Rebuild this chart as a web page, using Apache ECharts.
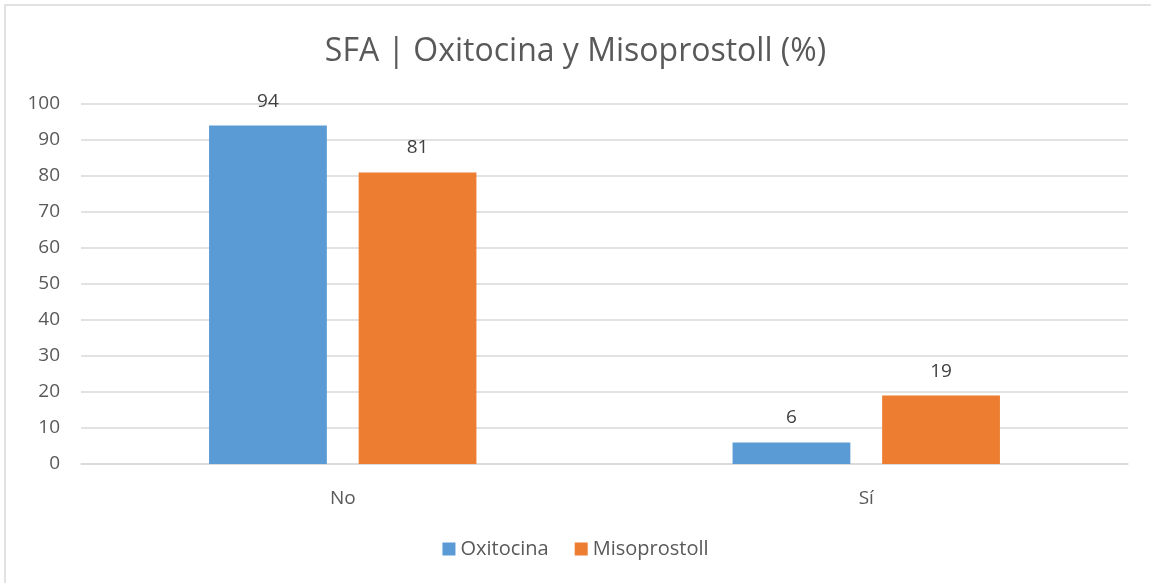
<!DOCTYPE html>
<html>
<head>
<meta charset="utf-8">
<script src="https://cdn.jsdelivr.net/npm/echarts@6/dist/echarts.min.js"></script>
<style>
  html, body { margin: 0; padding: 0; background: #fff; }
  #chart { width: 1151px; height: 583px; }
</style>
</head>
<body>
<div id="chart"></div>
<script>
// datos
const categories = ['No', 'Sí'];
const oxitocina = [94, 6];
const misoprostoll = [81, 19];
const yTicks = { min: 0, max: 100, interval: 10 };

const chart = echarts.init(document.getElementById('chart'));
const font = '"Open Sans", "Noto Sans", sans-serif';

chart.setOption({
  animation: false,
  textStyle: { fontFamily: font },
  graphic: [{
    type: 'rect',
    shape: { x: 5, y: 5, width: 1200, height: 650 },
    style: { fill: 'none', stroke: '#d9d9d9', lineWidth: 1.5 },
    silent: true
  }],
  title: {
    text: 'SFA | Oxitocina y Misoprostoll (%)',
    left: 'center',
    top: 31,
    textStyle: { fontSize: 32, fontWeight: 'normal', color: '#595959', fontFamily: font }
  },
  legend: {
    bottom: 19,
    left: 'center',
    itemWidth: 13,
    itemHeight: 13,
    itemGap: 26,
    icon: 'rect',
    textStyle: { fontSize: 20, color: '#595959', fontFamily: font },
    data: ['Oxitocina', 'Misoprostoll']
  },
  grid: { left: 81, right: 23, top: 104, bottom: 119 },
  xAxis: {
    type: 'category',
    data: categories,
    axisLine: { lineStyle: { color: '#d9d9d9', width: 1.5 } },
    axisTick: { show: false },
    axisLabel: { fontSize: 19, color: '#595959', margin: 25 }
  },
  yAxis: {
    type: 'value',
    min: yTicks.min,
    max: yTicks.max,
    interval: yTicks.interval,
    axisLine: { show: false },
    axisTick: { show: false },
    splitLine: { lineStyle: { color: '#d9d9d9', width: 1.5 } },
    axisLabel: { fontSize: 19, color: '#595959', margin: 21 }
  },
  series: [{
    name: 'Oxitocina',
    type: 'bar',
    data: oxitocina,
    barWidth: '22.5%',
    barGap: '27%',
    itemStyle: { color: '#5b9bd5' },
    label: { show: true, position: 'top', distance: 15, fontSize: 19, color: '#404040' }
  }, {
    name: 'Misoprostoll',
    type: 'bar',
    data: misoprostoll,
    barWidth: '22.5%',
    itemStyle: { color: '#ed7d31' },
    label: { show: true, position: 'top', distance: 15, fontSize: 19, color: '#404040' }
  }]
});
</script>
</body>
</html>
